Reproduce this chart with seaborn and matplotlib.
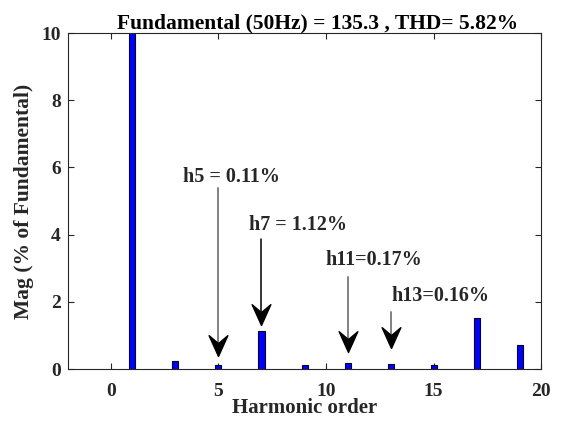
import numpy as np
import pandas as pd
import matplotlib
matplotlib.use("Agg")
import matplotlib.pyplot as plt
from matplotlib.path import Path
import seaborn as sns

orders = [1, 3, 5, 7, 9, 11, 13, 15, 17, 19]
mags = [100.0, 0.25, 0.11, 1.12, 0.12, 0.17, 0.16, 0.12, 1.53, 0.70]

notes = ["h5 = 0.11%", "h7 = 1.12%", "h11=0.17%", "h13=0.16%"]
note_order = [5, 7, 11, 13]
note_text_xy = [(5.6, 5.72), (8.7, 4.3), (12.2, 3.24), (15.3, 2.17)]
arrow_start = [5.4, 3.87, 2.74, 1.7]
arrow_tip = [0.38, 1.32, 0.5, 0.62]
arrow_col = ["0.5", "black", "0.5", "0.5"]

sns.set_style("ticks")
plt.rcParams["font.family"] = ["Liberation Serif", "DejaVu Serif"]
plt.rcParams["font.weight"] = "bold"
txt = "#262626"

df = pd.DataFrame({"order": orders, "mag": mags})

fig = plt.figure(figsize=(5.65, 4.21), dpi=100)
ax = fig.add_axes([0.12, 0.1235, 0.838, 0.798])
sns.barplot(data=df, x="order", y="mag", native_scale=True, width=0.14,
            color="blue", saturation=1, edgecolor="#000022", linewidth=0.8, ax=ax)

ax.set_xlim(-2, 20)
ax.set_ylim(0, 10)
ax.set_xticks([0, 5, 10, 15, 20])
ax.set_yticks([0, 2, 4, 6, 8, 10])
ax.tick_params(direction="in", top=True, right=True, labelsize=14, length=4,
               width=0.8, labelcolor=txt)
ax.tick_params(axis="x", pad=10)
ax.tick_params(axis="y", pad=5)
for lab in ax.get_xticklabels() + ax.get_yticklabels():
    lab.set_fontweight("bold")
for s in ax.spines.values():
    s.set_visible(True)
    s.set_linewidth(0.8)

ax.set_title("Fundamental (50Hz) = 135.3 , THD= 5.82%", fontsize=15.5,
             fontweight="bold", pad=3, color="black", x=0.527)
ax.set_xlabel("Harmonic order", fontsize=15, fontweight="bold", color=txt)
ax.set_ylabel("Mag (% of Fundamental)", fontsize=15.5, fontweight="bold", color=txt)
ax.xaxis.set_label_coords(0.5, -0.087)
ax.yaxis.set_label_coords(-0.072, 0.5)

head = Path([(0, 0), (-0.45, 1.0), (0, 0.62), (0.45, 1.0), (0, 0)],
            [Path.MOVETO, Path.LINETO, Path.LINETO, Path.LINETO, Path.CLOSEPOLY])

for t, h, (tx, ty), y0, y1, c in zip(notes, note_order, note_text_xy, arrow_start, arrow_tip, arrow_col):
    ax.text(tx, ty, t, ha="center", va="center", fontsize=14.5, fontweight="bold")
    ax.plot([h, h], [y0, y1 + 0.3], color=c, lw=1.1 if c == "black" else 1.4)
    ax.plot([h], [y1], marker=head, markersize=30, color="black", lw=0)

fig.savefig("out.png", dpi=100)
